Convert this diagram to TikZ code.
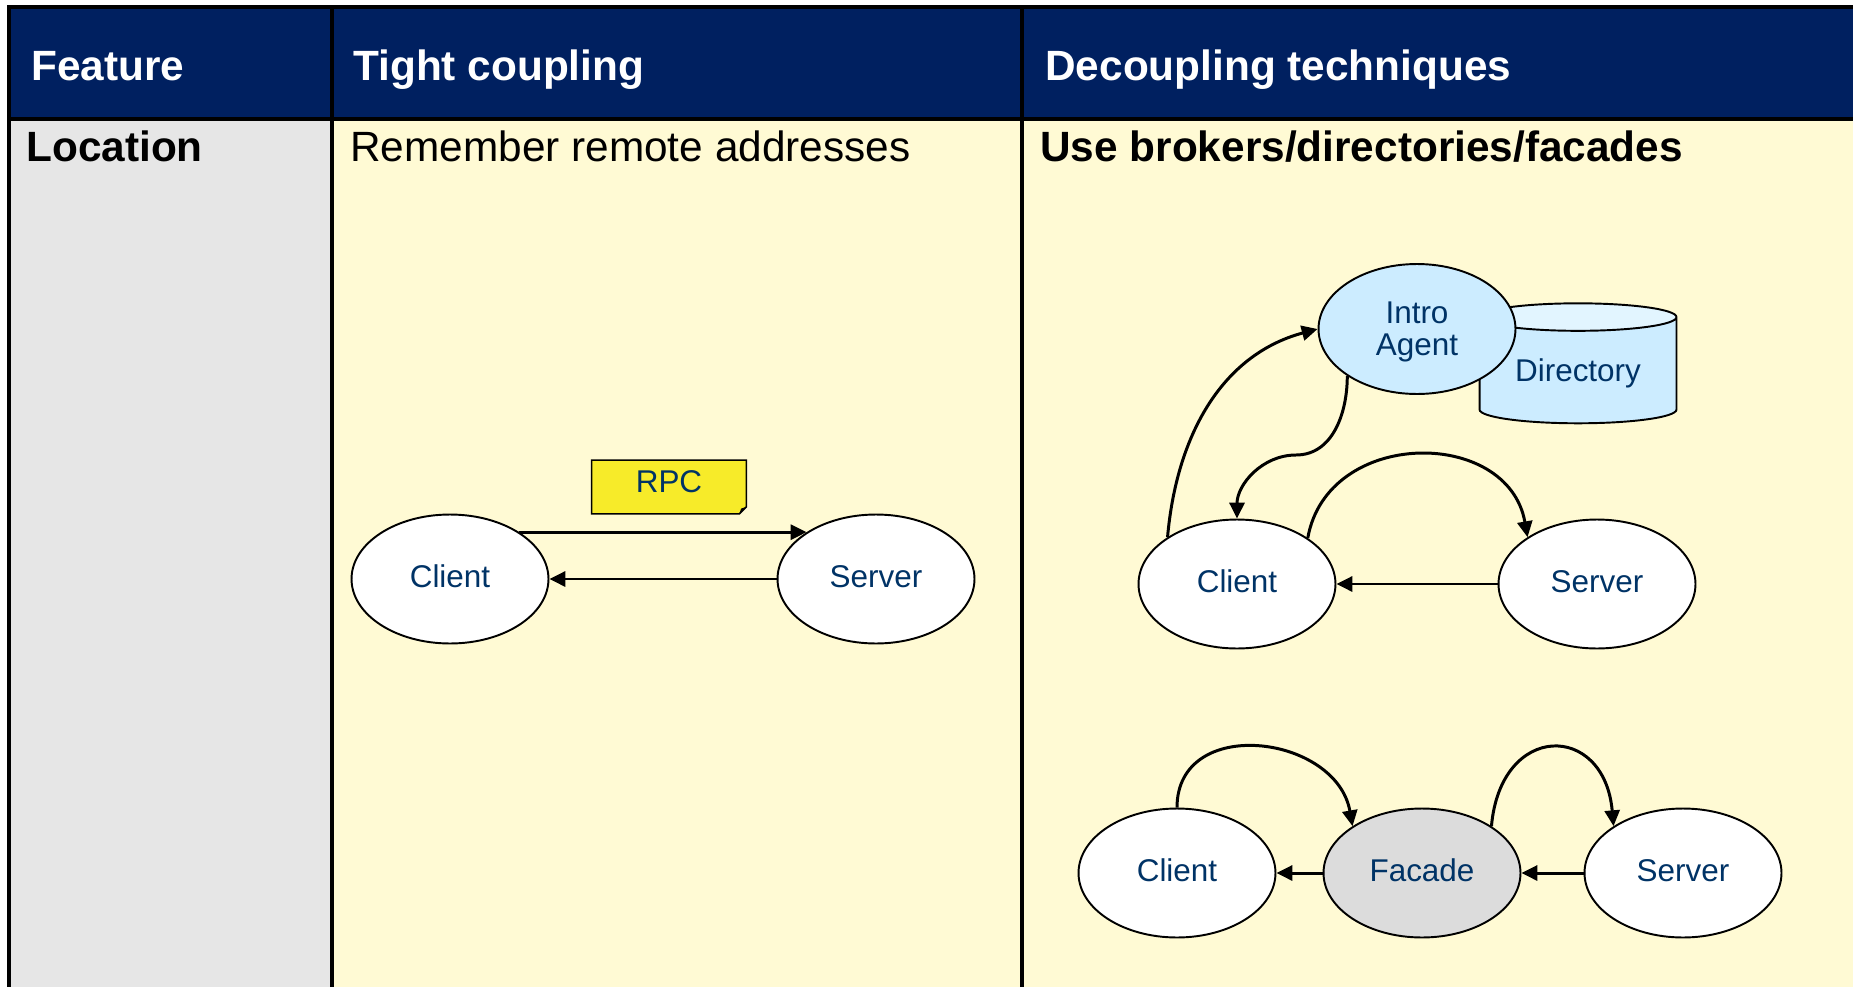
\documentclass[tikz,border=0pt]{standalone}
\usepackage{fontspec}
\setmainfont{Liberation Sans}
\usetikzlibrary{shapes.geometric, positioning, arrows.meta}

\definecolor{headblue}{RGB}{0,32,96}
\definecolor{cellyellow}{RGB}{255,250,212}
\definecolor{cellgray}{RGB}{230,230,230}
\definecolor{noteyellow}{RGB}{247,235,41}
\definecolor{agentblue}{RGB}{204,236,255}
\definecolor{dirtop}{RGB}{226,245,255}
\definecolor{facadegray}{RGB}{220,220,220}
\definecolor{labelblue}{RGB}{0,51,102}

\begin{document}
\begin{tikzpicture}[x=0.02cm, y=0.02cm,
            headtext/.style={anchor=base west, inner sep=0pt, text=white, font=\fontsize{24.1}{29}\selectfont\bfseries},
            celltext/.style={anchor=base west, inner sep=0pt, font=\fontsize{24.1}{29}\selectfont},
            proc/.style={ellipse, draw, line width=1.1pt, fill=white, minimum width=3.94cm, minimum height=2.58cm,
                    inner sep=0pt, align=center, text depth=3pt, text=labelblue, font=\fontsize{17.9}{18.2}\selectfont},
            notebox/.style={rectangle, fill=noteyellow, minimum width=3.08cm, minimum height=1.06cm,
                    inner sep=0pt, text depth=6pt, text=labelblue, font=\fontsize{17.9}{18.2}\selectfont},
            msg/.style={-{Triangle[length=9pt, width=8.5pt]}, line width=1.7pt},
            grid/.style={line width=2pt}
        ]
        \useasboundingbox (0,0) rectangle (1853,-987);
        \clip (0,0) rectangle (1853,-987);

        % Table cells
        \fill[headblue] (9,-7) rectangle (1860,-119);
        \fill[cellgray] (9,-119) rectangle (332,-990);
        \fill[cellyellow] (332,-119) rectangle (1860,-990);
        \draw[grid] (1860,-7) -- (9,-7) -- (9,-990);
        \draw[grid] (9,-119) -- (1860,-119);
        \draw[grid] (332,-7) -- (332,-990);
        \draw[grid] (1022,-7) -- (1022,-990);

        % Header row
        \node[headtext] (hfeature) at (31,-80) {Feature};
        \node[headtext] (htight) at (353,-80) {Tight coupling};
        \node[headtext] (hdecoup) at (1045,-80) {Decoupling techniques};

        % First row
        \node[celltext] (location) at (26,-161) {\bfseries Location};
        \node[celltext] (remember) at (350,-161) {Remember remote addresses};
        \node[celltext] (brokers) at (1040,-161) {\bfseries Use brokers/directories/facades};

        % Direct RPC
        \node[proc] (rpcclient) at (450,-579) {Client};
        \node[proc] (rpcserver) at (876,-579) {Server};
        \node[notebox] (rpc) at (669,-487) {RPC};
        \fill[cellyellow] ([yshift=4pt]rpc.south east) -- (rpc.south east) -- ([xshift=-4pt]rpc.south east) -- cycle;
        \draw[line width=0.9pt] (rpc.south west) -- (rpc.north west) -- (rpc.north east)
            -- ([yshift=4pt]rpc.south east) -- ([xshift=-4pt]rpc.south east) -- cycle;
        \fill ([yshift=4pt]rpc.south east) -- ([xshift=-4pt]rpc.south east) -- ([shift={(-3pt,3pt)}]rpc.south east) -- cycle;
        \draw[msg] (rpcclient.34) -- (rpcserver.146);
        \draw[msg] (rpcserver.west) -- (rpcclient.east);

        % Broker with directory
        \node[cylinder, shape border rotate=90, aspect=0.2, draw, line width=1.1pt,
            cylinder uses custom fill, cylinder body fill=agentblue, cylinder end fill=dirtop,
            minimum width=3.94cm, minimum height=2.4cm, text=labelblue,
            font=\fontsize{17.9}{18.2}\selectfont] (dir) at (1578,-373) {Directory};
        \node[proc, fill=agentblue, minimum height=2.6cm, text depth=0pt] (agent) at (1417,-329) {Intro\\Agent};
        \node[proc] (dirclient) at (1237,-584) {Client};
        \node[proc] (dirserver) at (1597,-584) {Server};
        \coordinate (turn) at (1296,-455);
        \draw[msg] (dirclient.146) to[out=85, in=195] (agent.west);
        \draw[msg] (agent.214) to[out=-90, in=0] (turn) to[out=180, in=90] (dirclient.north);
        \draw[msg] (dirclient.33) to[out=80, in=100, looseness=1.3] (dirserver.146);
        \draw[msg] (dirserver.west) -- (dirclient.east);

        % Facade in between
        \node[proc] (facclient) at (1177,-873) {Client};
        \node[proc, fill=facadegray] (facade) at (1422,-873) {Facade};
        \node[proc] (facserver) at (1683,-873) {Server};
        \draw[msg] (facade.west) -- (facclient.east);
        \draw[msg] (facserver.west) -- (facade.east);
        \draw[msg] (facclient.north) to[out=90, in=100, looseness=1.35] (facade.146);
        \draw[msg] (facade.34) to[out=85, in=95, looseness=2.2] (facserver.146);
    \end{tikzpicture}
\end{document}
